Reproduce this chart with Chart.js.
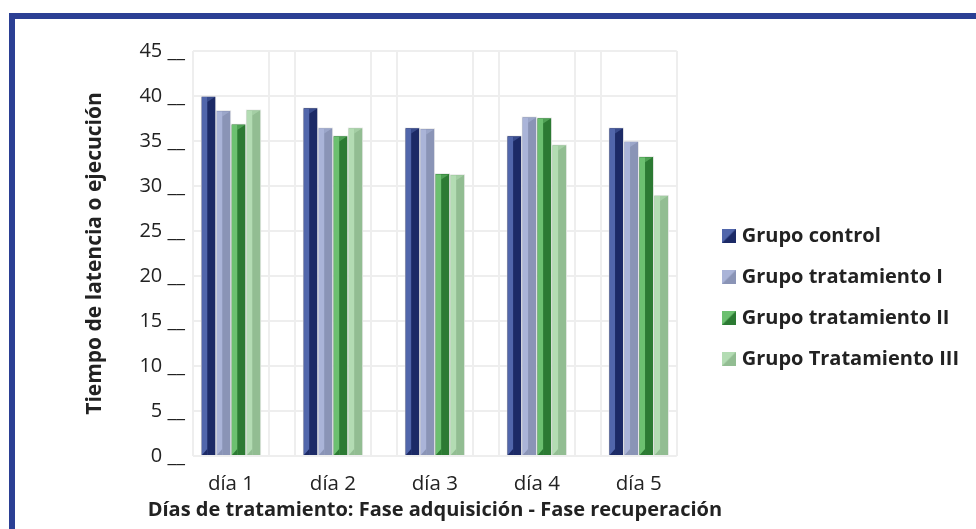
<!DOCTYPE html>
<html>
<head>
<meta charset="utf-8">
<script src="https://cdn.jsdelivr.net/npm/chart.js@4.4.1/dist/chart.umd.min.js"></script>
<style>
  html, body { margin: 0; padding: 0; background: #fff; overflow: hidden; }
  #wrap { position: relative; width: 976px; height: 529px; }
  #marco { position: absolute; left: 9px; top: 13px; width: 2000px; height: 2000px;
           border-left: 6px solid #2b3f94; border-top: 6px solid #2b3f94; }
  #caja { position: absolute; left: 0; top: 0; width: 976px; height: 529px; }
</style>
</head>
<body>
<div id="wrap">
  <div id="marco"></div>
  <div id="caja"><canvas id="grafica"></canvas></div>
</div>
<script>
const dias = ['día 1', 'día 2', 'día 3', 'día 4', 'día 5'];
const posiciones = [1, 2, 3, 4, 5];
const grupoControl = [40, 38.7, 36.5, 35.6, 36.5];
const grupoTratI = [38.4, 36.5, 36.4, 37.7, 35];
const grupoTratII = [36.9, 35.6, 31.4, 37.6, 33.3];
const grupoTratIII = [38.5, 36.5, 31.3, 34.6, 29];
const ticksY = [0, 5, 10, 15, 20, 25, 30, 35, 40, 45];
const tituloX = 'Días de tratamiento: Fase adquisición - Fase recuperación';

// colores: [claro, oscuro]
const colores = [
    ['#5166ab', '#1c2a66'],
    ['#aab4d8', '#8a94b6'],
    ['#6cc070', '#2c7a33'],
    ['#b3dcb3', '#92bd92']
];

const medio = 38 / 102; // medio ancho de celda en unidades del eje x
const fuente = '"Open Sans", "DejaVu Sans", sans-serif';

function iconoBisel(c) {
    const cv = document.createElement('canvas');
    cv.width = 14; cv.height = 14;
    const g = cv.getContext('2d');
    g.fillStyle = c[1];
    g.fillRect(0, 0, 14, 14);
    g.fillStyle = c[0];
    g.beginPath();
    g.moveTo(0, 0); g.lineTo(14, 0); g.lineTo(0, 14); g.closePath();
    g.fill();
    return cv;
}

const bisel = {
    id: 'bisel',
    afterDatasetsDraw(chart) {
        const g = chart.ctx;
        chart.data.datasets.forEach((ds, i) => {
            const meta = chart.getDatasetMeta(i);
            const c = colores[i];
            meta.data.forEach(bar => {
                const izq = bar.x - bar.width / 2;
                const der = bar.x + bar.width / 2;
                const corte = izq + bar.width * 0.42;
                const arriba = bar.y, abajo = bar.base;
                g.save();
                g.fillStyle = c[0];
                g.fillRect(izq + 1, arriba + 1, corte - izq - 1, abajo - arriba - 1);
                // tapa superior
                g.globalAlpha = 0.55;
                g.fillStyle = c[0];
                g.beginPath();
                g.moveTo(corte, arriba + 1); g.lineTo(der - 1, arriba + 1); g.lineTo(corte, arriba + 6);
                g.closePath(); g.fill();
                // sombra inferior
                g.globalAlpha = 1;
                g.fillStyle = c[1];
                g.beginPath();
                g.moveTo(izq + 1, abajo); g.lineTo(corte, abajo); g.lineTo(corte, abajo - 6);
                g.closePath(); g.fill();
                g.restore();
            });
        });
    }
};

// el título del eje x es más ancho que el área del gráfico, Chart.js lo comprimiría
const tituloEjeX = {
    id: 'tituloEjeX',
    afterDraw(chart) {
        const g = chart.ctx;
        const area = chart.chartArea;
        g.save();
        g.font = 'bold 20px ' + fuente;
        g.fillStyle = '#222';
        g.textAlign = 'center';
        g.textBaseline = 'middle';
        g.fillText(tituloX, (area.left + area.right) / 2, chart.scales.x.bottom - 14);
        g.restore();
    }
};

const ctx = document.getElementById('grafica').getContext('2d');

const series = [
    { label: 'Grupo control', data: grupoControl },
    { label: 'Grupo tratamiento I', data: grupoTratI },
    { label: 'Grupo tratamiento II', data: grupoTratII },
    { label: 'Grupo Tratamiento III', data: grupoTratIII }
];

const myChart = new Chart(ctx, {
    type: 'bar',
    data: {
        labels: posiciones,
        datasets: series.map((s, i) => ({
            label: s.label,
            data: s.data,
            backgroundColor: colores[i][1],
            borderColor: 'rgba(235,235,235,0.9)',
            borderWidth: 1,
            barThickness: 15,
            pointStyle: iconoBisel(colores[i])
        }))
    },
    options: {
        responsive: true,
        maintainAspectRatio: false,
        animation: false,
        layout: { padding: { left: 78, top: 51, right: 7, bottom: 5 } },
        plugins: {
            tooltip: { enabled: false },
            legend: {
                position: 'right',
                align: 'center',
                maxWidth: 400,
                title: { display: true, text: '', padding: 0, font: { size: 17 } },
                labels: {
                    usePointStyle: true,
                    boxWidth: 14,
                    boxHeight: 14,
                    pointStyleWidth: 6,
                    padding: 21,
                    color: '#222',
                    font: { family: fuente, size: 20, weight: 'bold' }
                }
            }
        },
        scales: {
            x: {
                type: 'linear',
                min: 1 - medio,
                max: 5 + medio,
                offset: false,
                afterBuildTicks: scale => {
                    const t = [{ value: 1 - medio }];
                    posiciones.forEach((p, k) => {
                        t.push({ value: p });
                        t.push({ value: p + medio });
                        if (k < posiciones.length - 1) t.push({ value: p + 1 - medio });
                    });
                    scale.ticks = t;
                },
                afterFit: scale => { scale.height = 68; },
                grid: {
                    offset: false,
                    drawTicks: false,
                    lineWidth: 2,
                    color: c => Number.isInteger(c.tick && c.tick.value) ? 'rgba(0,0,0,0)' : '#eeeeee'
                },
                border: { display: false },
                ticks: {
                    autoSkip: false,
                    maxRotation: 0,
                    padding: 16,
                    color: '#222',
                    font: { family: fuente, size: 20.5 },
                    callback: v => Number.isInteger(v) ? dias[v - 1] : ''
                },
                title: { display: false }
            },
            y: {
                min: 0,
                max: 45,
                afterBuildTicks: scale => { scale.ticks = ticksY.map(v => ({ value: v })); },
                afterFit: scale => { scale.width = 115; },
                grid: { drawTicks: false, lineWidth: 2, color: '#eeeeee' },
                border: { display: false },
                ticks: {
                    padding: 8,
                    color: '#222',
                    font: { family: fuente, size: 20 },
                    callback: v => v + ' __'
                },
                title: {
                    display: true,
                    text: 'Tiempo de latencia o ejecución',
                    color: '#222',
                    padding: { top: 4, bottom: 4 },
                    font: { family: fuente, size: 21, weight: 'bold' }
                }
            },
            hueco: {
                position: 'right',
                display: true,
                min: 0,
                max: 45,
                afterFit: scale => { scale.width = 28; },
                grid: { display: false },
                border: { display: false },
                ticks: { display: false }
            }
        }
    },
    plugins: [bisel, tituloEjeX]
});
</script>
</body>
</html>
